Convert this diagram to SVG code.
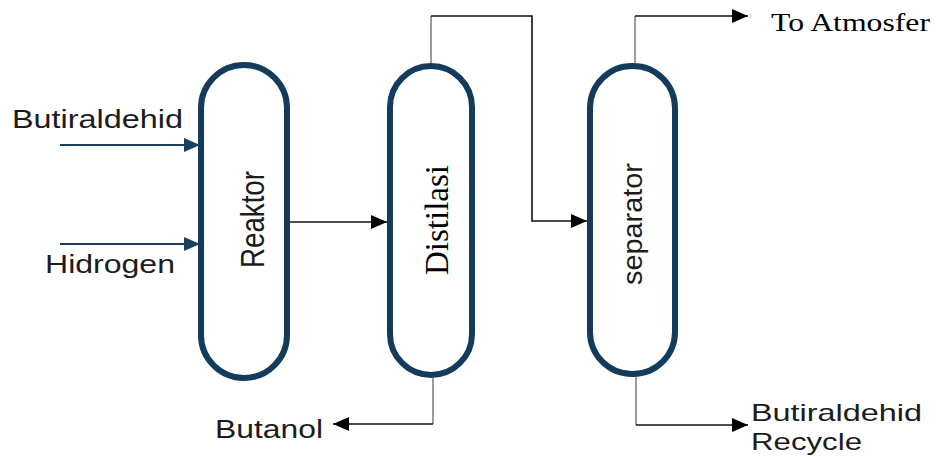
<svg xmlns="http://www.w3.org/2000/svg" width="936" height="457" viewBox="0 0 936 457">
<defs>
  <marker id="ab" viewBox="0 0 16 14" refX="16" refY="7" markerWidth="16" markerHeight="14" markerUnits="userSpaceOnUse" orient="auto"><path d="M0,0 L16,7 L0,14 z" fill="#000"/></marker>
  <marker id="an" viewBox="0 0 16 14" refX="16" refY="7" markerWidth="16" markerHeight="14" markerUnits="userSpaceOnUse" orient="auto"><path d="M0,0 L16,7 L0,14 z" fill="#1b3f5e"/></marker>
</defs>
<style>
  .vessel{fill:#fff;stroke:#133c5c;stroke-width:6}
  .lbl{font-family:"Liberation Sans",Arial,sans-serif;fill:#1c1c1c}
  .ser{font-family:"Liberation Serif","Times New Roman",serif;fill:#000}
  .flow{fill:none;stroke:#111;stroke-width:1.6}
  .stub{fill:none;stroke:#666;stroke-width:1.3}
  .feed{fill:none;stroke:#1b3f5e;stroke-width:2}
</style>
<rect width="936" height="457" fill="#fff"/>
<g id="connectors">
  <path class="feed" d="M60,145 H200" marker-end="url(#an)"/>
  <path class="feed" d="M60,244 H200" marker-end="url(#an)"/>
  <path class="flow" d="M290,222 H387" marker-end="url(#ab)"/>
  <path class="stub" d="M431,63 V16"/>
  <path class="flow" d="M431,16 H532 V221 H587" marker-end="url(#ab)"/>
  <path class="stub" d="M635,63 V16"/>
  <path class="flow" d="M635,16 H748" marker-end="url(#ab)"/>
  <path class="stub" d="M636,377 V425"/>
  <path class="flow" d="M636,425 H748" marker-end="url(#ab)"/>
  <path class="stub" d="M433,378 V424"/>
  <path class="flow" d="M433,424 H333" marker-end="url(#ab)"/>
</g>
<g id="reaktor">
  <rect class="vessel" x="201" y="65" width="86" height="313" rx="43"/>
  <text class="lbl" transform="translate(264,268) rotate(-90)" font-size="33" textLength="97" lengthAdjust="spacingAndGlyphs">Reaktor</text>
</g>
<g id="distilasi">
  <rect class="vessel" x="390" y="66" width="82" height="309" rx="41"/>
  <text class="ser" transform="translate(448,275) rotate(-90)" font-size="33" textLength="110" lengthAdjust="spacingAndGlyphs">Distilasi</text>
</g>
<g id="separator">
  <rect class="vessel" x="590" y="66" width="85" height="308" rx="42"/>
  <text class="lbl" transform="translate(642,285) rotate(-90)" font-size="27" textLength="122" lengthAdjust="spacingAndGlyphs">separator</text>
</g>
<g id="labels">
  <text class="lbl" x="12" y="128" font-size="25" textLength="171" lengthAdjust="spacingAndGlyphs">Butiraldehid</text>
  <text class="lbl" x="45" y="273" font-size="26" textLength="130" lengthAdjust="spacingAndGlyphs">Hidrogen</text>
  <text class="lbl" x="215" y="438" font-size="26" textLength="108" lengthAdjust="spacingAndGlyphs">Butanol</text>
  <text class="lbl" x="751" y="421" font-size="24" textLength="171" lengthAdjust="spacingAndGlyphs">Butiraldehid</text>
  <text class="lbl" x="751" y="450" font-size="24" textLength="111" lengthAdjust="spacingAndGlyphs">Recycle</text>
  <text class="ser" x="771" y="31" font-size="26" textLength="159" lengthAdjust="spacingAndGlyphs">To Atmosfer</text>
</g>
</svg>
